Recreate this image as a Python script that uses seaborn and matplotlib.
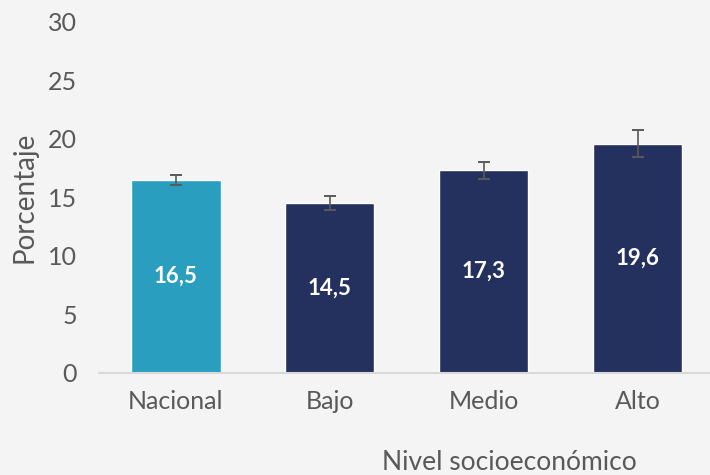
import matplotlib
matplotlib.use('Agg')
import matplotlib.pyplot as plt
import seaborn as sns
import pandas as pd
import numpy as np

# Data
categories = ['Nacional', 'Bajo', 'Medio', 'Alto']
values = [16.5, 14.5, 17.3, 19.6]
errors = [0.45, 0.62, 0.71, 1.15]
bar_colors = ['#299ebf', '#24305e', '#24305e', '#24305e']
value_labels = ['16,5', '14,5', '17,3', '19,6']

sns.set_style('white')
plt.rcParams['font.family'] = ['Lato', 'DejaVu Sans']
text_color = '#595959'
bg = '#f4f4f4'

df = pd.DataFrame({'nivel': categories, 'pct': values})

fig = plt.figure(figsize=(7.1, 4.75), dpi=100, facecolor=bg)
ax = fig.add_axes([0.1394, 0.215, 0.8606, 0.739])
ax.set_facecolor(bg)

sns.barplot(data=df, x='nivel', y='pct', hue='nivel', palette=bar_colors,
            legend=False, width=0.58, saturation=1, ax=ax)

ax.errorbar(np.arange(len(categories)), values, yerr=errors, fmt='none',
            ecolor='#5a5a5a', elinewidth=1.2, capsize=4.3, capthick=1.4)

# value labels centred in each bar
for i, (v, lab) in enumerate(zip(values, value_labels)):
    ax.text(i, v / 2, lab, ha='center', va='center', color='white',
            fontsize=16, fontweight='bold')

ax.set_ylim(0, 30)
ax.set_yticks(range(0, 31, 5))
ax.set_xlim(-0.5, 3.47)

for s in ['top', 'right', 'left']:
    ax.spines[s].set_visible(False)
ax.spines['bottom'].set_color('#d9d9d9')
ax.spines['bottom'].set_linewidth(1.5)

ax.tick_params(axis='both', length=0, labelsize=18, colors=text_color)
ax.tick_params(axis='x', pad=12)
ax.tick_params(axis='y', pad=16)

ax.set_xlabel('')
ax.set_ylabel('Porcentaje', fontsize=20, color=text_color)
ax.yaxis.set_label_coords(-0.1, 0.5)
fig.text(0.718, 0.027, 'Nivel socioeconómico', ha='center', va='center',
         fontsize=19, color=text_color)

fig.savefig('out.png', dpi=100, facecolor=bg)
